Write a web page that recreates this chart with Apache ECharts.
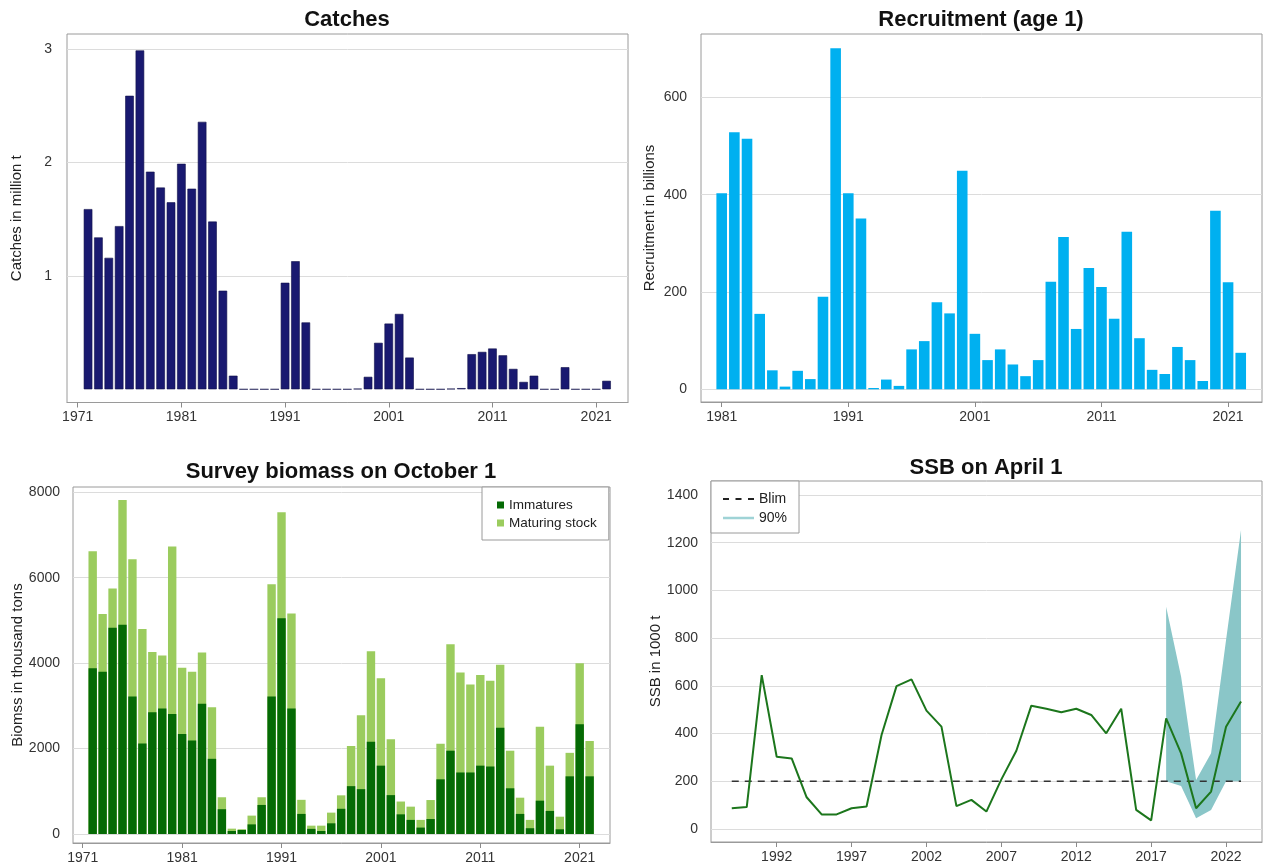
<!DOCTYPE html>
<html>
<head>
<meta charset="utf-8">
<title>Stock summary</title>
<script src="https://cdn.jsdelivr.net/npm/echarts@6/dist/echarts.min.js"></script>
<style>
html,body{margin:0;padding:0;background:#fff;}
#main{width:1263px;height:865px;}
</style>
</head>
<body>
<div id="main"></div>
<script>
var FONT = '"Liberation Sans", Arial, sans-serif';

// Catches (million t)
var catchYears = [1972,1973,1974,1975,1976,1977,1978,1979,1980,1981,1982,1983,1984,1985,1986,1987,1988,1989,1990,1991,
    1992,1993,1994,1995,1996,1997,1998,1999,2000,2001,2002,2003,2004,2005,2006,2007,2008,2009,2010,2011,
    2012,2013,2014,2015,2016,2017,2018,2019,2020,2021,2022];
var catches = [1.59,1.34,1.16,1.44,2.59,2.99,1.92,1.78,1.65,1.99,1.77,2.36,1.48,0.87,0.12,0,0,0,0,0.94,
    1.13,0.59,0,0,0,0,0.005,0.11,0.41,0.58,0.665,0.28,0,0,0,0.005,0.01,0.31,0.33,0.36,
    0.30,0.18,0.065,0.12,0,0,0.195,0,0,0,0.075];
var catchTicks = [1971,1981,1991,2001,2011,2021];

// Recruitment (billions)
var recYears = [1981,1982,1983,1984,1985,1986,1987,1988,1989,1990,1991,1992,1993,1994,1995,1996,1997,1998,1999,2000,
    2001,2002,2003,2004,2005,2006,2007,2008,2009,2010,2011,2012,2013,2014,2015,2016,2017,2018,2019,2020,2021,2022];
var recruitment = [403,528,515,155,39,5.5,38,21,190,701,403,351,2.7,20,7,82,99,179,156,449,
    114,60,82,51,27,60,221,313,124,249,210,145,324,105,40,31.5,87,60,17,367,220,75];
var recTicks = [1981,1991,2001,2011,2021];

// Survey biomass (thousand tons)
var bioYears = catchYears;
var immatures = [3880,3800,4830,4900,3220,2120,2850,2940,2810,2340,2190,3050,1760,580,70,95,225,680,3220,5050,
    2940,470,120,70,250,590,1120,1050,2160,1600,910,460,330,150,350,1280,1950,1440,1440,1600,
    1580,2490,1070,470,135,780,540,110,1350,2570,1350];
var maturing = [2740,1350,920,2920,3210,2680,1410,1240,3920,1550,1610,1200,1210,280,55,15,205,180,2630,2480,
    2220,330,75,125,250,315,940,1730,2120,2045,1310,300,310,180,445,835,2490,2340,2060,2120,
    2010,1470,880,380,195,1730,1060,295,550,1430,830];
var bioTicks = [1971,1981,1991,2001,2011,2021];

// SSB on April 1 (1000 t)
var ssbYears = [1989,1990,1991,1992,1993,1994,1995,1996,1997,1998,1999,2000,2001,2002,2003,2004,2005,2006,2007,2008,
    2009,2010,2011,2012,2013,2014,2015,2016,2017,2018,2019,2020,2021,2022,2023];
var ssb = [87,92,645,303,296,133,61,61,87,94,394,599,627,496,429,96,122,73,208,328,
    517,504,489,504,478,401,504,80,36,464,317,87,157,429,534];
var bandYears = [2018,2019,2020,2021,2022,2023];
var bandUpper = [932,638,205,317,792,1253];
var bandLower = [200,180,45,80,200,200];
var blim = 200;
var ssbTicks = [1992,1997,2002,2007,2012,2017,2022];

function pairs(xs, ys) {
    return xs.map(function (x, i) { return [x, ys[i]]; });
}

function plain(v) {
    return String(v);
}

function xAx(idx, min, max, ticks) {
    return {
        type: 'value', gridIndex: idx, min: min, max: max,
        axisLine: {show: true, onZero: false, lineStyle: {color: '#9a9a9a'}},
        axisTick: {show: true, length: 5, customValues: ticks, lineStyle: {color: '#8a8a8a'}},
        axisLabel: {customValues: ticks, formatter: plain, margin: 8, fontSize: 14, color: '#333', fontFamily: FONT},
        splitLine: {show: false}
    };
}

function yAx(idx, min, max, ticks, name, gap, lm) {
    return {
        type: 'value', gridIndex: idx, min: min, max: max,
        name: name, nameLocation: 'middle', nameGap: gap,
        nameTextStyle: {fontSize: 15, color: '#222', fontFamily: FONT},
        axisLine: {show: false},
        axisTick: {show: false, customValues: ticks},
        axisLabel: {customValues: ticks, formatter: plain, margin: lm, fontSize: 14, color: '#333', fontFamily: FONT},
        splitLine: {show: true, lineStyle: {color: '#dcdcdc', width: 1}}
    };
}

var gridStyle = {show: true, borderColor: '#9a9a9a', borderWidth: 1, containLabel: false};

var chart = echarts.init(document.getElementById('main'));
var option = {
    animation: false,
    textStyle: {fontFamily: FONT},
    title: [
        {text: 'Catches', left: 347, top: 9, textAlign: 'center', padding: 0,
            textStyle: {fontSize: 22, fontWeight: 'bold', color: '#111', fontFamily: FONT}},
        {text: 'Recruitment (age 1)', left: 981, top: 9, textAlign: 'center', padding: 0,
            textStyle: {fontSize: 22, fontWeight: 'bold', color: '#111', fontFamily: FONT}},
        {text: 'Survey biomass on October 1', left: 341, top: 461, textAlign: 'center', padding: 0,
            textStyle: {fontSize: 22, fontWeight: 'bold', color: '#111', fontFamily: FONT}},
        {text: 'SSB on April 1', left: 986, top: 457, textAlign: 'center', padding: 0,
            textStyle: {fontSize: 22, fontWeight: 'bold', color: '#111', fontFamily: FONT}}
    ],
    legend: [
        {
            left: 482, top: 487, orient: 'vertical',
            padding: [10, 12, 9, 15], itemGap: 2,
            itemWidth: 7, itemHeight: 7, icon: 'rect',
            backgroundColor: '#fff', borderColor: '#9a9a9a', borderWidth: 1, borderRadius: 0,
            textStyle: {fontSize: 13.5, color: '#222', fontFamily: FONT, lineHeight: 16},
            data: ['Immatures', 'Maturing stock']
        },
        {
            left: 711, top: 481, orient: 'vertical',
            padding: [10, 12, 7, 12], itemGap: 3,
            itemWidth: 31, itemHeight: 14,
            backgroundColor: '#fff', borderColor: '#9a9a9a', borderWidth: 1, borderRadius: 0,
            textStyle: {fontSize: 14, color: '#222', fontFamily: FONT, lineHeight: 16},
            data: [
                {name: 'Blim', icon: 'path://M0,0h6v2h-6z M12.5,0h6v2h-6z M25,0h6v2h-6z', itemStyle: {color: '#222'}},
                {name: '90%', icon: 'path://M0,0h31v2.5h-31z', itemStyle: {color: '#9fd3d6'}}
            ]
        }
    ],
    grid: [
        Object.assign({left: 67, top: 34, width: 561, height: 368.5}, gridStyle),
        Object.assign({left: 701, top: 34, width: 561, height: 368}, gridStyle),
        Object.assign({left: 73, top: 487, width: 537, height: 356}, gridStyle),
        Object.assign({left: 711, top: 481, width: 551, height: 361}, gridStyle)
    ],
    xAxis: [
        xAx(0, 1969.97, 2024.07, catchTicks),
        xAx(1, 1979.365, 2023.68, recTicks),
        xAx(2, 1970.02, 2024.05, bioTicks),
        xAx(3, 1987.614, 2024.40, ssbTicks)
    ],
    yAxis: [
        yAx(0, -0.1165, 3.135, [1, 2, 3], 'Catches in million t', 43, 15),
        yAx(1, -26.1, 730.1, [0, 200, 400, 600], 'Recruitment in billions', 44, 14),
        yAx(2, -211, 8124, [0, 2000, 4000, 6000, 8000], 'Biomss in thousand tons', 46, 13),
        yAx(3, -54.5, 1458.7, [0, 200, 400, 600, 800, 1000, 1200, 1400], 'SSB in 1000 t', 42, 13)
    ],
    series: [
        {
            name: 'Catches', type: 'bar', xAxisIndex: 0, yAxisIndex: 0,
            barWidth: 8.6,
            itemStyle: {color: '#191970', borderColor: '#10104a', borderWidth: 0.6},
            data: pairs(catchYears, catches)
        },
        {
            name: 'Recruitment', type: 'bar', xAxisIndex: 1, yAxisIndex: 1,
            barWidth: 10.6,
            itemStyle: {color: '#00b0f0'},
            data: pairs(recYears, recruitment)
        },
        {
            // total height = immatures + maturing; the light part shows the maturing stock
            name: 'Maturing stock', type: 'bar', xAxisIndex: 2, yAxisIndex: 2,
            barWidth: 8.4, barGap: '-100%',
            itemStyle: {color: '#9bcc5e'},
            data: bioYears.map(function (y, i) { return [y, immatures[i] + maturing[i]]; })
        },
        {
            name: 'Immatures', type: 'bar', xAxisIndex: 2, yAxisIndex: 2,
            barWidth: 8.4, barGap: '-100%',
            itemStyle: {color: '#056a05'},
            data: pairs(bioYears, immatures)
        },
        {
            name: '90%', type: 'custom', xAxisIndex: 3, yAxisIndex: 3,
            z: 1,
            encode: {x: 0, y: [1, 2]},
            renderItem: function (params, api) {
                if (params.dataIndex !== 0) return null;
                var pts = [];
                for (var i = 0; i < bandYears.length; i++) {
                    pts.push(api.coord([bandYears[i], bandUpper[i]]));
                }
                for (var j = bandYears.length - 1; j >= 0; j--) {
                    pts.push(api.coord([bandYears[j], bandLower[j]]));
                }
                return {type: 'polygon', shape: {points: pts}, style: {fill: '#8ac6c8'}};
            },
            data: bandYears.map(function (y, i) { return [y, bandLower[i], bandUpper[i]]; })
        },
        {
            name: 'Blim', type: 'line', xAxisIndex: 3, yAxisIndex: 3,
            z: 3, symbol: 'none',
            lineStyle: {color: '#333', width: 1.6, type: [7, 6]},
            data: [[ssbYears[0], blim], [ssbYears[ssbYears.length - 1], blim]]
        },
        {
            name: 'SSB', type: 'line', xAxisIndex: 3, yAxisIndex: 3,
            z: 4, symbol: 'none',
            lineStyle: {color: '#1c761c', width: 2},
            data: pairs(ssbYears, ssb)
        }
    ]
};
chart.setOption(option);
</script>
</body>
</html>
